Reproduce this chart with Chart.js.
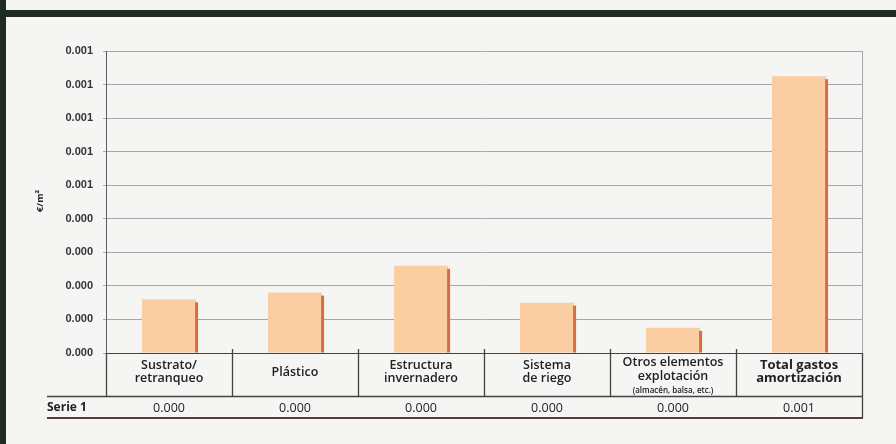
<!DOCTYPE html>
<html>
<head>
<meta charset="utf-8">
<script src="https://cdn.jsdelivr.net/npm/chart.js@4.4.1/dist/chart.umd.min.js"></script>
<style>
    html, body { margin: 0; padding: 0; background: #f5f5f4; }
    #wrap { position: relative; width: 896px; height: 444px; overflow: hidden; }
    #band { position: absolute; left: 0; top: 10px; width: 896px; height: 7px; background: #1f2a25; }
    #side { position: absolute; left: 0; top: 0; width: 6px; height: 444px; background: #1f2a25; }
    canvas { position: absolute; left: 0; top: 0; }
</style>
</head>
<body>
<div id="wrap">
    <canvas id="chart-amort" width="896" height="444"></canvas>
    <div id="band"></div>
    <div id="side"></div>
</div>
<script>
// category labels as they appear in the table, one entry per line
const categories = [
    ['Sustrato/', 'retranqueo'],
    ['Plástico'],
    ['Estructura', 'invernadero'],
    ['Sistema', 'de riego'],
    ['Otros elementos', 'explotación'],
    ['Total gastos', 'amortización']
];
const categoryNotes = ['', '', '', '', '(almacén, balsa, etc.)', ''];
const seriesName = 'Serie 1';
const serie1 = [0.00016, 0.00018, 0.00026, 0.00015, 0.000075, 0.000825];
const yTickLabels = ['0.000', '0.000', '0.000', '0.000', '0.000', '0.001', '0.001', '0.001', '0.001', '0.001'];
const yTitle = '€/m²';

const barColor = 'rgb(250, 205, 162)';
const barEdge = 'rgb(212, 112, 66)';
const gridColor = 'rgb(168, 168, 172)';
const lineDark = 'rgb(70, 66, 66)';
const labelFont = '"Open Sans", "Noto Sans", sans-serif';

// darker right side of each bar, a bit lower than its top (3d look)
const barEdgePlugin = {
    id: 'barEdgePlugin',
    afterDatasetsDraw(chart) {
        const ctx = chart.ctx;
        const meta = chart.getDatasetMeta(0);
        ctx.save();
        ctx.fillStyle = barEdge;
        meta.data.forEach(el => {
            const right = el.x + el.width / 2;
            ctx.fillRect(right - 1, el.y + 3, 3, el.base - el.y - 3);
        });
        ctx.restore();
    }
};

// draws the data table under the plot, using the x scale for positions
const tablePlugin = {
    id: 'tablePlugin',
    afterDraw(chart) {
        const ctx = chart.ctx;
        const x = chart.scales.x;
        const area = chart.chartArea;
        const half = (x.getPixelForValue(1) - x.getPixelForValue(0)) / 2;
        const bottom = area.bottom;

        ctx.save();
        // right border of the plot
        ctx.strokeStyle = gridColor;
        ctx.lineWidth = 1;
        ctx.beginPath();
        ctx.moveTo(area.right + 0.5, area.top);
        ctx.lineTo(area.right + 0.5, bottom);
        ctx.stroke();

        ctx.strokeStyle = lineDark;
        ctx.lineWidth = 1.3;
        ctx.beginPath();
        for (let i = 0; i < categories.length; i++) {
            const bx = Math.round(x.getPixelForValue(i) - half) + 0.5;
            ctx.moveTo(bx, i === 0 ? bottom : bottom - 4);
            ctx.lineTo(bx, bottom + 44);
        }
        ctx.moveTo(area.right + 0.5, bottom);
        ctx.lineTo(area.right + 0.5, bottom + 65);
        ctx.moveTo(47, bottom + 43.5);
        ctx.lineTo(area.right + 0.5, bottom + 43.5);
        ctx.stroke();
        ctx.lineWidth = 2;
        ctx.strokeStyle = 'rgb(80, 64, 64)';
        ctx.beginPath();
        ctx.moveTo(47, bottom + 65);
        ctx.lineTo(area.right + 1, bottom + 65);
        ctx.stroke();

        // category labels
        ctx.fillStyle = '#222';
        ctx.textAlign = 'center';
        ctx.textBaseline = 'middle';
        for (let i = 0; i < categories.length; i++) {
            const cx = x.getPixelForValue(i);
            const lines = categories[i];
            const bold = i === categories.length - 1;
            ctx.font = (bold ? '700 13px ' : '600 12.5px ') + labelFont;
            let ys;
            if (categoryNotes[i]) ys = [9, 23];
            else if (lines.length === 2) ys = [12, 25];
            else ys = [19];
            lines.forEach((t, k) => ctx.fillText(t, cx, bottom + ys[k]));
            if (categoryNotes[i]) {
                ctx.font = '600 8px ' + labelFont;
                ctx.fillText(categoryNotes[i], cx, bottom + 38);
            }
            // value row
            ctx.font = '12.5px ' + labelFont;
            ctx.fillText(serie1[i].toFixed(3), cx, bottom + 55);
        }
        ctx.textAlign = 'left';
        ctx.font = '700 12px ' + labelFont;
        ctx.fillText(seriesName, 47, bottom + 55);

        // y axis title
        ctx.translate(40, 201);
        ctx.rotate(-Math.PI / 2);
        ctx.textAlign = 'center';
        ctx.font = '700 9.5px ' + labelFont;
        ctx.fillText(yTitle, 0, 0);
        ctx.restore();
    }
};

Chart.defaults.font.family = '"Liberation Sans", Arial, sans-serif';
Chart.defaults.color = '#333';

const ctxAmort = document.getElementById('chart-amort').getContext('2d');
var chartAmort = new Chart(ctxAmort, {
    type: 'bar',
    data: {
        labels: categories.map(c => c.join(' ')),
        datasets: [{
            label: seriesName,
            data: serie1,
            backgroundColor: barColor,
            borderWidth: 0,
            barPercentage: 0.43,
            categoryPercentage: 1
        }]
    },
    options: {
        responsive: false,
        animation: false,
        layout: {
            padding: { left: 0, top: 51, right: 34, bottom: 91 }
        },
        plugins: {
            legend: { display: false },
            tooltip: { enabled: false }
        },
        scales: {
            x: {
                ticks: { display: false },
                grid: { display: false },
                border: { color: lineDark, width: 1, dash: [3, 1] },
                afterFit: function (scale) {
                    scale.height = 0;
                }
            },
            y: {
                min: 0,
                max: 0.0009,
                ticks: {
                    stepSize: 0.0001,
                    padding: 10,
                    font: { size: 11, weight: 'bold' },
                    callback: function (value, index) {
                        return yTickLabels[index];
                    }
                },
                grid: {
                    color: gridColor,
                    tickLength: 3
                },
                border: { color: 'rgb(90, 90, 95)', width: 1 },
                afterFit: function (scale) {
                    scale.width = 106;
                }
            }
        }
    },
    plugins: [barEdgePlugin, tablePlugin]
});
</script>
</body>
</html>
